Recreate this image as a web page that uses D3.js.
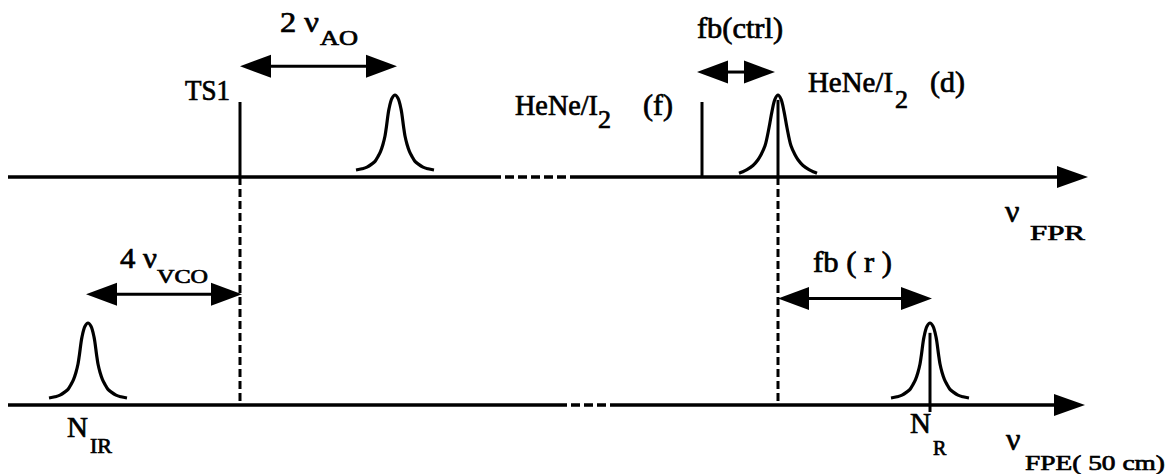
<!DOCTYPE html>
<html><head><meta charset="utf-8">
<script src="https://cdn.jsdelivr.net/npm/d3@7"></script>
<style>
body{margin:0;background:#fff}
text{font-family:"Liberation Serif","Times New Roman",serif;fill:#000}
</style>
</head><body>
<svg id="c" width="1167" height="474"></svg>
<script>
// ---- data (frequency positions in arbitrary units, amplitudes relative) ----
const rows = ["FPR", "FPE"];
const axisSolid = [
  {row: "FPR", from: 8, to: 492}, {row: "FPR", from: 570, to: 1062},
  {row: "FPE", from: 8, to: 558}, {row: "FPE", from: 615, to: 1060}
];
const axisDashed = [{row: "FPR", from: 492, to: 570}, {row: "FPE", from: 558, to: 615}];
const axisEnds = [{row: "FPR", at: 1088}, {row: "FPE", at: 1085}];
const peakCenters = [395, 778, 930, 88];
const peakRows = ["FPR", "FPR", "FPE", "FPE"];
const peakShapes = ["a", "b", "a", "a"];
// half profile: [offset, relative height]
const profileA = [[0, 1], [3, 0.96], [6, 0.83], [8.5, 0.62], [10, 0.5], [12, 0.4], [14.5, 0.31], [17, 0.25], [20, 0.19], [23, 0.16], [28, 0.12], [33, 0.1], [39, 0.085]];
const profileB = [[0, 1], [3, 0.95], [6, 0.8], [9, 0.6], [13, 0.38], [17, 0.27], [20, 0.21], [25, 0.14], [31, 0.09], [36, 0.06], [39, 0.045]];
const stickPos = [240, 702, 778, 930];
const stickRows = ["FPR", "FPR", "FPR", "FPE"];
const stickTops = [0.915, 0.915, 0.94, 0.88];
const linkPos = [240, 778];
const spanFrom = [240, 697, 86, 778];
const spanTo = [397, 775, 242, 932];
const spanRows = ["FPR", "FPR", "FPE", "FPE"];
const spanLevels = [1.35, 1.28, 1.35, 1.30];
const labelTexts = ["TS1", "2 ν", "AO", "fb(ctrl)", "HeNe/I", "2", "(f)", "HeNe/I", "2", "(d)",
  "ν", "FPR", "4 ν", "VCO", "fb ( r )", "N", "IR", "N", "R", "ν", "FPE( 50 cm)"];

// ---- scales ----
const svg = d3.select("#c");
const x = d3.scaleLinear().domain([0, 1167]).range([0, 1167]);
const rowY = d3.scaleOrdinal().domain(rows).range([177, 405]);
const amp = d3.scaleLinear().domain([0, 1]).range([0, 82]);
const yAt = (row, v) => rowY(row) - amp(v);

// ---- axes ----
svg.selectAll(".axs").data(axisSolid).join("line")
  .attr("x1", d => x(d.from)).attr("x2", d => x(d.to))
  .attr("y1", d => rowY(d.row)).attr("y2", d => rowY(d.row))
  .attr("stroke", "#000").attr("stroke-width", 3.5);
svg.selectAll(".axd").data(axisDashed).join("line")
  .attr("x1", d => x(d.from)).attr("x2", d => x(d.to))
  .attr("y1", d => rowY(d.row)).attr("y2", d => rowY(d.row))
  .attr("stroke", "#000").attr("stroke-width", 3.5).attr("stroke-dasharray", "9,4");
svg.selectAll(".axe").data(axisEnds).join("path")
  .attr("d", d => {
    const X = x(d.at), Y = rowY(d.row);
    return `M${X},${Y} L${X - 31},${Y - 11} L${X - 31},${Y + 11} Z`;
  }).attr("fill", "#000");

// ---- dashed links between rows ----
svg.selectAll(".lnk").data(linkPos).join("line")
  .attr("x1", d => x(d)).attr("x2", d => x(d))
  .attr("y1", rowY("FPR")).attr("y2", rowY("FPE"))
  .attr("stroke", "#000").attr("stroke-width", 3).attr("stroke-dasharray", "8,4");

// ---- peaks ----
const line = d3.line().x(p => p[0]).y(p => p[1]).curve(d3.curveCatmullRom.alpha(0.5));
peakCenters.forEach((c, i) => {
  const prof = peakShapes[i] === "a" ? profileA : profileB;
  const full = prof.slice().reverse().map(p => [-p[0], p[1]]).concat(prof.slice(1));
  const pts = full.map(p => [x(c + p[0]), yAt(peakRows[i], p[1])]);
  svg.append("path").attr("d", line(pts)).attr("fill", "none")
    .attr("stroke", "#000").attr("stroke-width", 3.2).attr("stroke-linejoin", "round");
});

// ---- sticks ----
stickPos.forEach((p, i) => {
  svg.append("line").attr("x1", x(p)).attr("x2", x(p))
    .attr("y1", yAt(stickRows[i], stickTops[i]))
    .attr("y2", rowY(stickRows[i]) + (stickRows[i] === "FPE" ? 7 : 0))
    .attr("stroke", "#000").attr("stroke-width", 3);
});

// ---- double arrows ----
spanFrom.forEach((f, i) => {
  const X1 = x(f), X2 = x(spanTo[i]), Y = yAt(spanRows[i], spanLevels[i]);
  const L = 31, H = 11.5;
  svg.append("line").attr("x1", X1 + L - 2).attr("x2", X2 - L + 2).attr("y1", Y).attr("y2", Y)
    .attr("stroke", "#000").attr("stroke-width", 3);
  svg.append("path").attr("d", `M${X1},${Y} L${X1 + L},${Y - H} L${X1 + L},${Y + H} Z`).attr("fill", "#000");
  svg.append("path").attr("d", `M${X2},${Y} L${X2 - L},${Y - H} L${X2 - L},${Y + H} Z`).attr("fill", "#000");
});

// ---- labels: [x, baseline, font size, width (0 = natural)] ----
const layout = [
  [185, 100, 29, 45], [280, 32, 29, 39], [320, 45, 20, 38], [697, 38, 29, 86],
  [515, 115, 29, 83], [598, 128, 26, 0], [643, 115, 29, 30],
  [808, 92, 29, 85], [895, 108, 26, 0], [930, 92, 29, 35],
  [1005, 222, 32, 0], [1030, 240, 21, 55],
  [120, 268, 29, 37], [157, 283, 19, 51],
  [813, 272, 29, 79],
  [67, 437, 29, 0], [90, 453, 20, 22],
  [910, 433, 29, 0], [933, 455, 20, 0],
  [1006, 450, 32, 0], [1025, 470, 22, 140]
];
labelTexts.forEach((t, i) => {
  const [lx, ly, s, w] = layout[i];
  const el = svg.append("text").attr("x", x(lx)).attr("y", ly).attr("font-size", s)
    .attr("stroke", "#000").attr("stroke-width", 0.7).text(t);
  if (w) el.attr("textLength", w).attr("lengthAdjust", "spacingAndGlyphs");
});
</script>
</body></html>
